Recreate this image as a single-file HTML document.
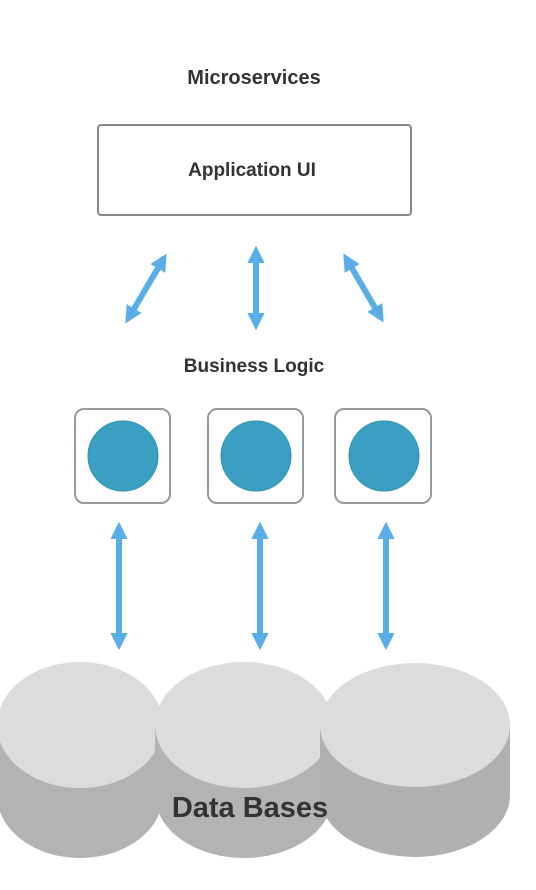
<!DOCTYPE html>
<html><head><meta charset="utf-8"><style>
html,body{margin:0;padding:0;background:#fff;}
svg{display:block;}
text{font-family:"Liberation Sans",Arial,sans-serif;font-weight:bold;fill:#333;}
</style></head><body>
<svg width="536" height="890" viewBox="0 0 536 890" xmlns="http://www.w3.org/2000/svg">
<defs>
<marker id="ah" viewBox="0 0 10 10" refX="7" refY="5" markerWidth="2.9" markerHeight="2.9" orient="auto-start-reverse" markerUnits="strokeWidth">
<path d="M0,0 L10,5 L0,10 z" fill="#5aaee8"/>
</marker>
</defs>
<text x="254" y="84" font-size="20" text-anchor="middle">Microservices</text>
<rect x="98" y="125" width="313" height="90" rx="3" fill="#fff" stroke="#888" stroke-width="2"/>
<text x="252" y="176" font-size="19" text-anchor="middle">Application UI</text>
<g stroke="#5aaee8" stroke-width="6" fill="none" marker-start="url(#ah)" marker-end="url(#ah)">
<line x1="164" y1="258" x2="128" y2="319"/>
<line x1="256" y1="251" x2="256" y2="325"/>
<line x1="346" y1="258" x2="381" y2="318"/>
<line x1="119" y1="527" x2="119" y2="645"/>
<line x1="260" y1="527" x2="260" y2="645"/>
<line x1="386" y1="527" x2="386" y2="645"/>
</g>
<text x="254" y="372" font-size="19" text-anchor="middle">Business Logic</text>
<g fill="#fff" stroke="#999" stroke-width="2">
<rect x="75" y="409" width="95" height="94" rx="9"/>
<rect x="208" y="409" width="95" height="94" rx="9"/>
<rect x="335" y="409" width="96" height="94" rx="9"/>
</g>
<g fill="#3b9fc3" stroke="#2f90b5" stroke-width="1">
<circle cx="123" cy="456" r="35"/>
<circle cx="256" cy="456" r="35"/>
<circle cx="384" cy="456" r="35"/>
</g>
<g>
<path d="M-3,725 L-3,795 A83,63 0 0 0 163,795 L163,725 Z" fill="#b3b3b3"/>
<ellipse cx="80" cy="725" rx="83" ry="63" fill="#dcdcdc"/>
<path d="M155,725 L155,795 A89,63 0 0 0 333,795 L333,725 Z" fill="#b3b3b3"/>
<ellipse cx="244" cy="725" rx="89" ry="63" fill="#dcdcdc"/>
<path d="M320,725 L320,795 A95,62 0 0 0 510,795 L510,725 Z" fill="#b0b0b0"/>
<ellipse cx="415" cy="725" rx="95" ry="62" fill="#dcdcdc"/>
</g>
<text x="250" y="817" font-size="29" text-anchor="middle" style="fill:#333">Data Bases</text>
</svg>
</body></html>
